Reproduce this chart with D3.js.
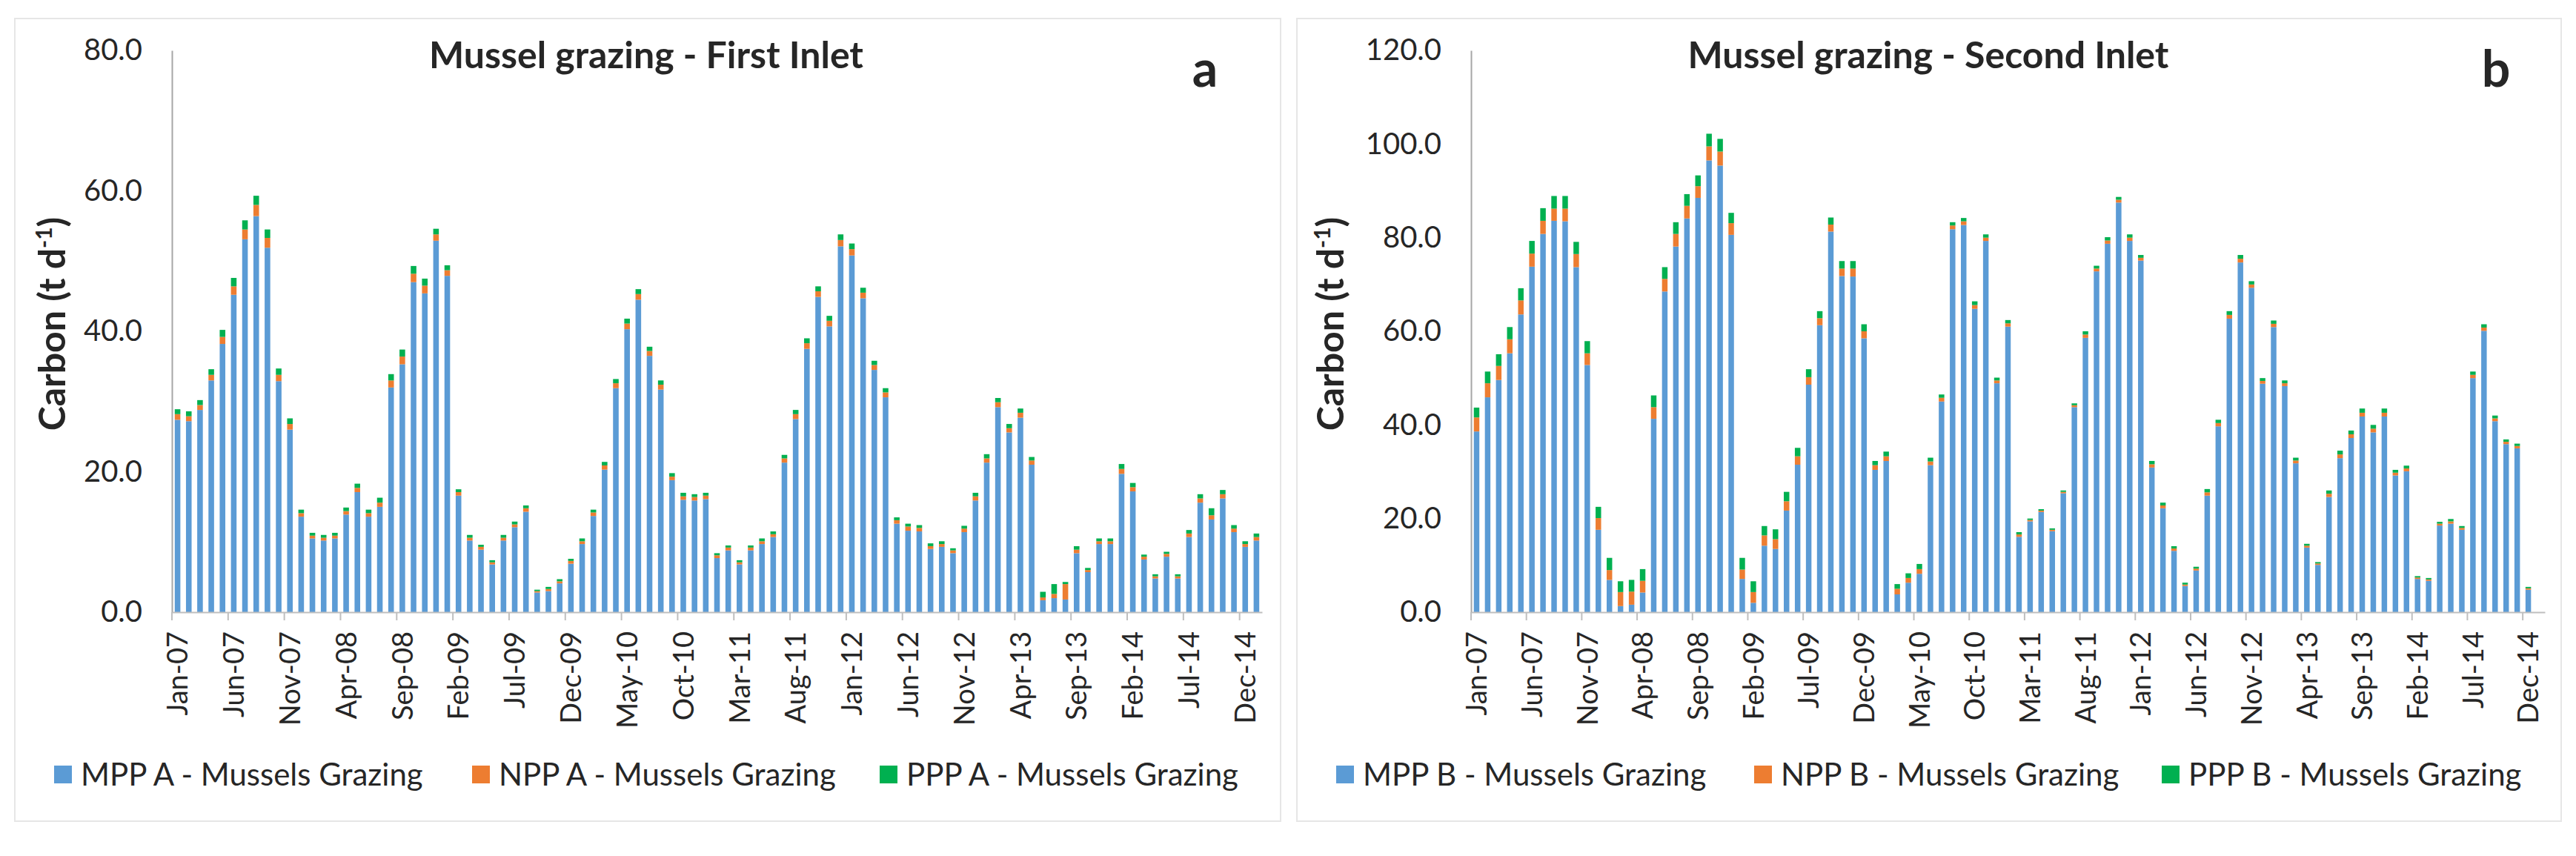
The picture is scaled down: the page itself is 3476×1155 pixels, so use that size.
<!DOCTYPE html>
<html>
<head>
<meta charset="utf-8">
<script src="https://cdn.jsdelivr.net/npm/d3@7"></script>
<style>
  body { margin: 0; background: #fff; }
  text { font-family: Lato, "Open Sans", sans-serif; fill: #262626; }
</style>
</head>
<body>
<div id="chart"></div>
<script>
// Monthly categories, Jan-07 .. Jan-15
var months = [
  "Jan-07","Feb-07","Mar-07","Apr-07","May-07","Jun-07","Jul-07","Aug-07","Sep-07","Oct-07","Nov-07","Dec-07",
  "Jan-08","Feb-08","Mar-08","Apr-08","May-08","Jun-08","Jul-08","Aug-08","Sep-08","Oct-08","Nov-08","Dec-08",
  "Jan-09","Feb-09","Mar-09","Apr-09","May-09","Jun-09","Jul-09","Aug-09","Sep-09","Oct-09","Nov-09","Dec-09",
  "Jan-10","Feb-10","Mar-10","Apr-10","May-10","Jun-10","Jul-10","Aug-10","Sep-10","Oct-10","Nov-10","Dec-10",
  "Jan-11","Feb-11","Mar-11","Apr-11","May-11","Jun-11","Jul-11","Aug-11","Sep-11","Oct-11","Nov-11","Dec-11",
  "Jan-12","Feb-12","Mar-12","Apr-12","May-12","Jun-12","Jul-12","Aug-12","Sep-12","Oct-12","Nov-12","Dec-12",
  "Jan-13","Feb-13","Mar-13","Apr-13","May-13","Jun-13","Jul-13","Aug-13","Sep-13","Oct-13","Nov-13","Dec-13",
  "Jan-14","Feb-14","Mar-14","Apr-14","May-14","Jun-14","Jul-14","Aug-14","Sep-14","Oct-14","Nov-14","Dec-14",
  "Jan-15"
];

var tickLabels = ["Jan-07","Jun-07","Nov-07","Apr-08","Sep-08","Feb-09","Jul-09","Dec-09","May-10","Oct-10",
  "Mar-11","Aug-11","Jan-12","Jun-12","Nov-12","Apr-13","Sep-13","Feb-14","Jul-14","Dec-14"];

// First inlet (t C per day)
var mppA = [27.4,27.2,28.8,33.0,38.2,45.2,53.1,56.4,51.9,32.9,26.0,13.6,
  10.5,10.2,10.5,13.9,17.1,13.6,15.0,32.0,35.3,47.0,45.4,52.9,
  47.9,16.6,10.2,8.9,6.8,10.2,12.1,14.3,2.8,3.0,4.1,6.9,
  9.7,13.7,20.3,31.9,40.3,44.5,36.5,31.7,18.8,16.0,15.9,16.1,
  7.7,8.8,6.8,8.8,9.7,10.7,21.3,27.5,37.5,44.9,40.7,52.1,
  50.8,44.7,34.5,30.6,12.6,11.6,11.5,9.0,9.3,8.4,11.4,15.9,
  21.3,29.2,25.6,27.7,21.0,1.7,2.0,1.8,8.4,5.7,9.7,9.7,
  19.7,17.2,7.5,4.8,7.9,4.8,10.7,15.6,13.2,16.2,11.4,9.3,
  10.2];
var nppA = [0.8,0.7,0.7,0.8,1.0,1.2,1.4,1.6,1.4,0.9,0.8,0.5,
  0.4,0.4,0.4,0.5,0.6,0.5,0.6,1.0,1.1,1.2,1.1,0.9,
  0.8,0.5,0.4,0.4,0.3,0.4,0.4,0.5,0.2,0.3,0.3,0.4,
  0.4,0.5,0.6,0.7,0.8,0.8,0.7,0.7,0.5,0.5,0.5,0.5,
  0.4,0.4,0.3,0.4,0.4,0.4,0.6,0.7,0.8,0.8,0.8,0.9,
  0.9,0.8,0.7,0.7,0.5,0.6,0.5,0.4,0.4,0.4,0.5,0.6,
  0.6,0.7,0.6,0.7,0.6,0.4,0.6,2.2,0.5,0.3,0.4,0.4,
  0.7,0.6,0.4,0.3,0.4,0.3,0.5,0.6,0.6,0.6,0.5,0.4,
  0.5];
var pppA = [0.7,0.7,0.7,0.8,1.0,1.2,1.3,1.3,1.2,0.9,0.8,0.5,
  0.4,0.4,0.4,0.5,0.6,0.5,0.7,0.9,1.0,1.1,1.0,0.8,
  0.7,0.4,0.4,0.3,0.3,0.4,0.4,0.4,0.2,0.3,0.3,0.3,
  0.4,0.4,0.5,0.6,0.7,0.7,0.6,0.6,0.5,0.5,0.4,0.4,
  0.3,0.3,0.3,0.3,0.4,0.4,0.5,0.6,0.7,0.7,0.7,0.8,
  0.8,0.7,0.6,0.6,0.4,0.4,0.4,0.4,0.4,0.3,0.4,0.5,
  0.6,0.6,0.6,0.6,0.5,0.8,1.4,0.3,0.5,0.3,0.4,0.4,
  0.7,0.6,0.3,0.3,0.3,0.3,0.5,0.6,1.0,0.6,0.5,0.4,
  0.5];

// Second inlet (t C per day)
var mppB = [38.6,45.9,49.6,55.3,63.6,73.8,80.8,83.6,83.5,73.7,52.8,17.6,
  6.9,1.3,1.6,4.2,41.3,68.5,78.1,84.1,88.5,96.5,95.4,80.6,
  7.1,2.0,14.2,13.5,21.7,31.5,48.6,61.3,81.3,71.8,71.7,58.5,
  30.4,32.3,3.8,6.3,8.2,31.4,45.0,81.8,82.7,64.8,79.3,48.9,
  61.0,16.1,19.4,21.4,17.3,25.4,43.8,58.6,72.8,78.7,87.5,79.3,
  75.1,30.9,22.2,13.1,5.6,8.9,24.9,39.7,62.7,74.7,69.3,48.8,
  60.9,48.3,31.8,13.8,10.1,24.6,32.9,37.2,41.8,38.4,41.8,29.2,
  30.1,7.1,6.7,18.5,18.9,17.6,50.0,60.1,40.8,35.9,35.0,4.8,
  0];
var nppB = [3.0,3.0,3.0,3.0,3.0,2.8,2.8,2.6,2.7,2.8,2.5,2.5,
  2.1,3.0,2.8,2.5,2.5,2.7,2.7,2.7,2.5,3.0,3.0,2.5,
  2.0,2.3,2.2,2.1,2.0,1.8,1.6,1.5,1.5,1.6,1.7,1.5,
  1.0,1.0,1.2,1.0,1.0,0.8,0.8,0.8,0.8,0.8,0.7,0.6,
  0.7,0.5,0.3,0.3,0.3,0.3,0.4,0.7,0.6,0.7,0.6,0.7,
  0.6,0.7,0.6,0.5,0.3,0.4,0.7,0.7,0.8,0.8,0.7,0.6,
  0.7,0.6,0.6,0.4,0.3,0.7,0.8,0.8,0.8,0.8,0.8,0.6,
  0.6,0.3,0.3,0.4,0.5,0.4,0.7,0.7,0.6,0.5,0.5,0.3,
  0];
var pppB = [2.1,2.5,2.5,2.6,2.6,2.7,2.7,2.7,2.7,2.6,2.6,2.4,
  2.6,2.3,2.5,2.5,2.5,2.5,2.5,2.5,2.3,2.7,2.7,2.2,
  2.5,2.3,2.0,2.1,2.0,1.8,1.7,1.5,1.5,1.6,1.6,1.5,
  0.9,1.0,1.0,1.0,1.1,0.8,0.7,0.7,0.7,0.8,0.7,0.6,
  0.7,0.5,0.3,0.3,0.3,0.3,0.4,0.7,0.6,0.7,0.6,0.7,
  0.6,0.7,0.6,0.5,0.4,0.4,0.7,0.7,0.8,0.8,0.7,0.6,
  0.7,0.6,0.6,0.4,0.3,0.7,0.8,0.8,0.9,0.8,0.9,0.6,
  0.6,0.3,0.3,0.4,0.5,0.4,0.7,0.7,0.6,0.5,0.5,0.3,
  0];

var colors = ["#5B9BD5", "#ED7D31", "#00B050"];

var svgWidth = 3476;
var svgHeight = 1155;

var svg = d3.select("#chart")
  .append("svg")
  .attr("width", svgWidth)
  .attr("height", svgHeight)
  .style("background", "#fff");

function drawPanel(p) {
  // panel frame
  svg.append("rect")
    .attr("x", p.frame[0]).attr("y", p.frame[1])
    .attr("width", p.frame[2]).attr("height", p.frame[3])
    .attr("fill", "#fff")
    .attr("stroke", "#E6E6E6")
    .attr("stroke-width", 2);

  var width = p.right - p.left;
  var height = p.bottom - p.top;

  var g = svg.append("g")
    .attr("transform", `translate(${p.left}, ${p.top})`);

  var table = months.map(function(m, i) {
    return { month: m, mpp: p.mpp[i], npp: p.npp[i], ppp: p.ppp[i] };
  });

  var xScale = d3.scaleBand()
    .domain(months)
    .range([0, width])
    .paddingInner(0.5)
    .paddingOuter(0.25);

  var yScale = d3.scaleLinear()
    .domain([0, p.yMax])
    .range([height, 0]);

  var series = d3.stack().keys(["mpp", "npp", "ppp"])(table);

  g.selectAll("g.series")
    .data(series)
    .enter()
    .append("g")
    .attr("class", "series")
    .attr("fill", (d, i) => colors[i])
    .selectAll("rect")
    .data(d => d)
    .enter()
    .append("rect")
    .attr("x", d => xScale(d.data.month))
    .attr("y", d => yScale(d[1]))
    .attr("width", xScale.bandwidth())
    .attr("height", d => Math.max(0, yScale(d[0]) - yScale(d[1])));

  // y axis
  var leftAxis = d3.axisLeft(yScale)
    .tickValues(d3.range(0, p.yMax + 1, 20))
    .tickFormat(d3.format(".1f"))
    .tickSize(0)
    .tickPadding(40);

  var yAxis = g.append("g").call(leftAxis);
  yAxis.select(".domain").attr("stroke", "#A6A6A6").attr("stroke-width", 2);
  yAxis.selectAll("text")
    .style("font-size", "40px")
    .attr("fill", "#404040");

  // x axis
  var bottomAxis = d3.axisBottom(xScale)
    .tickValues(tickLabels)
    .tickSize(0)
    .tickPadding(0);

  var xAxis = g.append("g")
    .attr("transform", `translate(0, ${height})`)
    .call(bottomAxis);
  xAxis.select(".domain").attr("stroke", "#BFBFBF").attr("stroke-width", 2);
  xAxis.selectAll("text")
    .style("font-size", "38px")
    .attr("fill", "#404040")
    .attr("text-anchor", "end")
    .attr("transform", "rotate(-90)")
    .attr("x", -26)
    .attr("y", 0)
    .attr("dy", "0.36em");

  // tick marks on category boundaries
  var step = xScale.step();
  xAxis.selectAll("line.boundary")
    .data(tickLabels)
    .enter()
    .append("line")
    .attr("class", "boundary")
    .attr("x1", d => xScale(d) - (step - xScale.bandwidth()) / 2)
    .attr("x2", d => xScale(d) - (step - xScale.bandwidth()) / 2)
    .attr("y1", 0)
    .attr("y2", 11)
    .attr("stroke", "#BFBFBF")
    .attr("stroke-width", 2);

  // title and panel letter
  svg.append("text")
    .attr("x", p.titleX)
    .attr("y", 92)
    .attr("text-anchor", "middle")
    .style("font-size", "50px")
    .style("font-weight", "bold")
    .attr("fill", "#000")
    .text(p.title);

  svg.append("text")
    .attr("x", p.letterX)
    .attr("y", 117)
    .attr("text-anchor", "middle")
    .style("font-size", "68px")
    .style("font-weight", "bold")
    .attr("fill", "#000")
    .text(p.letter);

  // y axis label
  var yLabel = svg.append("text")
    .attr("transform", `translate(${p.yLabelX}, ${p.top + height / 2 - 10}) rotate(-90)`)
    .attr("text-anchor", "middle")
    .attr("dy", "0.35em")
    .style("font-size", "50px")
    .style("font-weight", "bold")
    .attr("fill", "#000");
  yLabel.append("tspan").text("Carbon (t d");
  yLabel.append("tspan")
    .attr("baseline-shift", "super")
    .style("font-size", "30px")
    .text("-1");
  yLabel.append("tspan").text(")");

  // legend
  var legend = svg.append("g")
    .attr("transform", `translate(0, 1045)`);
  var items = legend.selectAll("g")
    .data(p.legend)
    .enter()
    .append("g")
    .attr("transform", (d, i) => `translate(${p.legendX[i]}, 0)`);
  items.append("rect")
    .attr("x", 0)
    .attr("y", -12)
    .attr("width", 24)
    .attr("height", 24)
    .attr("fill", (d, i) => colors[i]);
  items.append("text")
    .attr("x", 36)
    .attr("dy", "0.36em")
    .style("font-size", "42px")
    .attr("fill", "#404040")
    .text(d => d);
}

drawPanel({
  frame: [20, 25, 1708, 1083],
  left: 232, right: 1703, top: 68, bottom: 826,
  yMax: 80,
  mpp: mppA, npp: nppA, ppp: pppA,
  title: "Mussel grazing - First Inlet",
  titleX: 872, letter: "a", letterX: 1626,
  yLabelX: 70,
  legend: ["MPP A - Mussels Grazing", "NPP A - Mussels Grazing", "PPP A - Mussels Grazing"],
  legendX: [73, 637, 1187]
});

drawPanel({
  frame: [1750, 25, 1706, 1083],
  left: 1985, right: 3434, top: 68, bottom: 826,
  yMax: 120,
  mpp: mppB, npp: nppB, ppp: pppB,
  title: "Mussel grazing - Second Inlet",
  titleX: 2602, letter: "b", letterX: 3368,
  yLabelX: 1795,
  legend: ["MPP B - Mussels Grazing", "NPP B - Mussels Grazing", "PPP B - Mussels Grazing"],
  legendX: [1803, 2367, 2917]
});
</script>
</body>
</html>
